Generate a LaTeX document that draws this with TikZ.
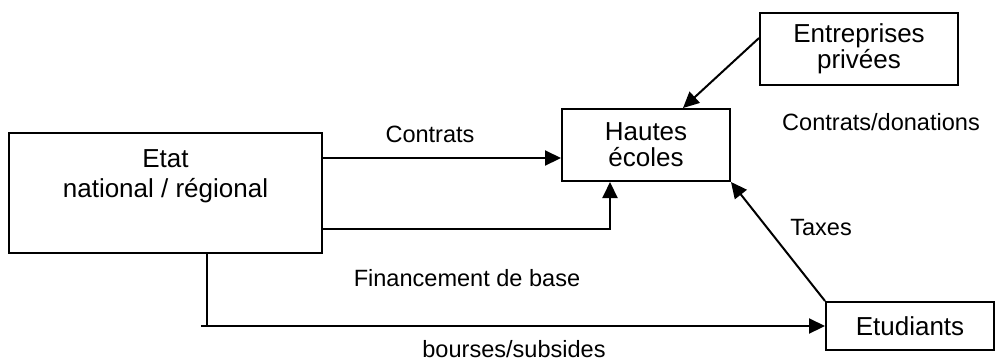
\documentclass[tikz,border=0pt]{standalone}
\usepackage{fontspec}
\setmainfont{Liberation Sans}
\usetikzlibrary{arrows.meta}
\begin{document}
\begin{tikzpicture}[x=0.02cm, y=-0.02cm, line width=0.04cm,
          >={Triangle[length=0.32cm, width=0.3cm]},
          box/.style={draw, align=center, inner sep=0pt, font=\fontsize{14.8}{14.8}\selectfont},
          lbl/.style={inner sep=0pt, font=\fontsize{13.4}{16}\selectfont}]
        \useasboundingbox (0,0) rectangle (1001,360);
        \node[box, minimum width=6.26cm, minimum height=2.4cm, font=\fontsize{14.8}{17.1}\selectfont] (etat) at (165.5,193) {Etat\\national / régional\\\strut};
        \node[box, minimum width=3.36cm, minimum height=1.44cm] (hautes) at (646,145) {Hautes\\écoles};
        \node[box, minimum width=3.96cm, minimum height=1.44cm] (entreprises) at (859,49) {Entreprises\\privées};
        \node[box, minimum width=3.36cm, minimum height=0.96cm] (etudiants) at (910,326) {Etudiants};
        % labels
        \node[lbl] (lcontrats) at (430,134) {Contrats};
        \node[lbl] (ldonations) at (881,122) {Contrats/donations};
        \node[lbl] (lbase) at (467,278) {Financement de base};
        \node[lbl] (ltaxes) at (821,228) {Taxes};
        \node[lbl] (lbourses) at (514,349) {bourses/subsides};
        % flows
        \coordinate (cin) at ([yshift=-0.26cm]hautes.west);
        \draw[->] (etat.east |- cin) -- (cin);
        \coordinate (fin) at ([xshift=-0.72cm]hautes.south);
        \draw[->] ([yshift=-0.72cm]etat.east) -| (fin);
        \draw[->] ([yshift=0.22cm]entreprises.west) -- ([xshift=0.74cm]hautes.north);
        \draw[->] (etudiants.north west) -- (hautes.south east);
        \coordinate (bt) at ([xshift=0.83cm]etat.south);
        \coordinate (bk) at (bt |- etudiants.west);
        \draw (bt) -- (bk);
        \draw[->] ([xshift=-0.12cm]bk) -- (etudiants.west);
      \end{tikzpicture}
\end{document}
